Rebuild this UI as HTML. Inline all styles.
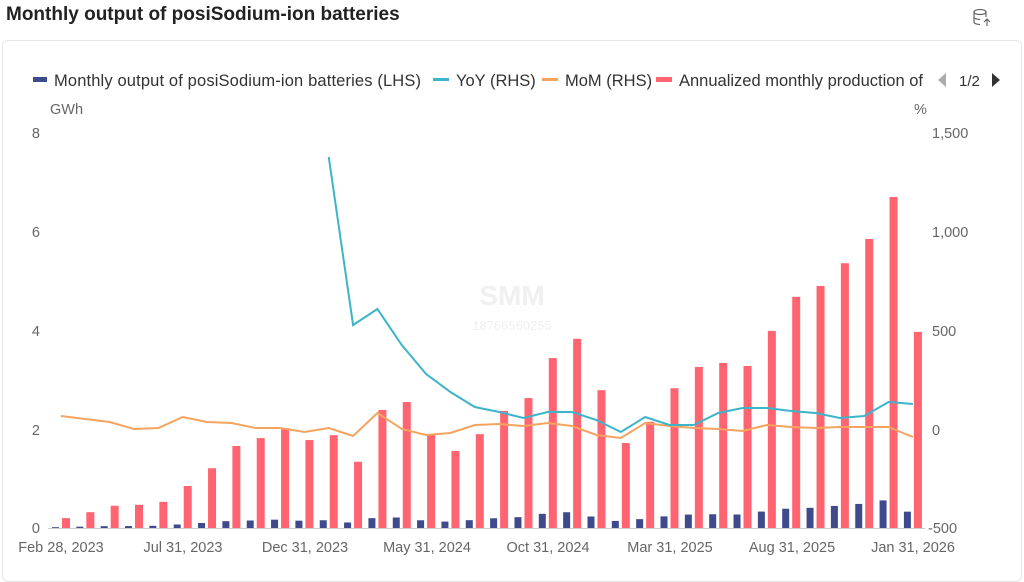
<!DOCTYPE html>
<html><head><meta charset="utf-8"><style>
body{margin:0;width:1024px;height:568px;background:#fff;font-family:"Liberation Sans",sans-serif;overflow:hidden;position:relative}
.t{position:absolute;left:6px;top:4px;font-size:19px;font-weight:bold;color:#222}
.card{position:absolute;left:2px;top:40px;width:1018px;height:540px;border:1px solid #e6e6e6;border-radius:6px}
</style></head><body>
<div class="t">Monthly output of posiSodium-ion batteries</div>
<div class="card"></div>
<svg width="1024" height="568" style="position:absolute;left:0;top:0" font-family="Liberation Sans, sans-serif">
<defs><clipPath id="lc"><rect x="0" y="60" width="928" height="40"/></clipPath></defs>
<g transform="translate(980,12)" fill="none" stroke="#666" stroke-width="1.2"><ellipse cx="0" cy="0" rx="6" ry="2.5"/><path d="M-6 0v10c0 1.5 3 2.5 6 2.5M6 0v5M-6 5c0 1.5 3 2.5 6 2.5"/><path d="M7 7v7M4 10l3-3 3 3"/></g>
<g font-size="16.5" fill="#333" clip-path="url(#lc)">
<rect x="33" y="77" width="14" height="5" fill="#3e4a8c"/><text x="54" y="86" textLength="367">Monthly output of posiSodium-ion batteries (LHS)</text>
<rect x="433" y="78" width="16" height="3" fill="#3cb4c9"/><text x="456" y="86">YoY (RHS)</text>
<rect x="542" y="78" width="16" height="3" fill="#f4a45e"/><text x="565" y="86">MoM (RHS)</text>
<rect x="656" y="77" width="16" height="5" fill="#ff6470"/><text x="679" y="86">Annualized monthly production of</text>
</g>
<g font-size="14" fill="#333">
<path d="M946 73v14l-8-7z" fill="#aaa"/><text x="959" y="86" font-size="15">1/2</text><path d="M992 73v14l8-7z" fill="#333"/>
</g>
<g font-size="14.5" fill="#666">
<text x="50" y="114">GWh</text><text x="914" y="114">%</text>
<text x="40" y="138" text-anchor="end">8</text><text x="40" y="237" text-anchor="end">6</text><text x="40" y="336" text-anchor="end">4</text><text x="40" y="435" text-anchor="end">2</text><text x="40" y="533" text-anchor="end">0</text>
<text x="932" y="138">1,500</text><text x="932" y="237">1,000</text><text x="932" y="336">500</text><text x="932" y="435">0</text><text x="928" y="533">-500</text>
</g>
<text x="512" y="305" font-size="28" font-weight="bold" fill="#f0f0f0" text-anchor="middle">SMM</text>
<text x="512" y="330" font-size="13" fill="#f0f0f0" text-anchor="middle">18766560255</text>
<line x1="48" y1="528.5" x2="925" y2="528.5" stroke="#ccc"/>
<g id="bars"></g>
<g font-size="14.5" fill="#666" text-anchor="middle">
<text x="61" y="552">Feb 28, 2023</text><text x="183" y="552">Jul 31, 2023</text><text x="305" y="552">Dec 31, 2023</text><text x="427" y="552">May 31, 2024</text><text x="548" y="552">Oct 31, 2024</text><text x="670" y="552">Mar 31, 2025</text><text x="792" y="552">Aug 31, 2025</text><text x="913" y="552">Jan 31, 2026</text>
</g>
<polyline id="mom" fill="none" stroke="#f4a45e" stroke-width="2"/>
<polyline id="yoy" fill="none" stroke="#3cb4c9" stroke-width="2"/>
</svg>
<script>
var red=[0.2,0.32,0.45,0.47,0.53,0.85,1.21,1.66,1.82,2.02,1.78,1.88,1.34,2.39,2.55,1.88,1.56,1.9,2.37,2.63,3.44,3.83,2.79,1.72,2.15,2.83,3.26,3.34,3.28,3.99,4.68,4.9,5.36,5.85,6.7,3.97];
var mom=[416,419,422,429,428,417,422,423,428,428,432,428,436,413,429,435,433,425,424,426,423,426,435,438,423,426,428,429,431,425,427,428,427,427,427,437];
var yoy=[157,325,309,345,374,392,407,412,418,412,412,420,432,417,425,425,413,408,408,411,413,418,416,402,404];
var s='',d=24.34;
for(var i=0;i<36;i++){var c=61+i*d,h=red[i]*49.4,b=h/12;
s+='<rect x="'+(c-9)+'" y="'+(528-b)+'" width="7" height="'+b+'" fill="#3e4a8c"/>';
s+='<rect x="'+(c+1)+'" y="'+(528-h)+'" width="8" height="'+h+'" fill="#ff6470"/>';}
document.getElementById('bars').innerHTML=s;
document.getElementById('mom').setAttribute('points',mom.map(function(y,i){return(61+i*d)+','+y}).join(' '));
document.getElementById('yoy').setAttribute('points',yoy.map(function(y,i){return(61+(i+11)*d)+','+y}).join(' '));
</script>
</body></html>
